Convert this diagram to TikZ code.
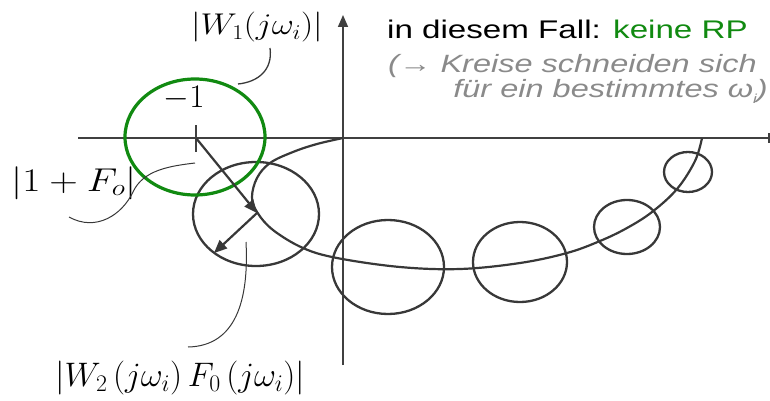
\RequirePackage{fix-cm}
\documentclass[tikz,border=0pt]{standalone}
\usepackage{fontspec}
\usepackage{graphicx}
\usetikzlibrary{arrows.meta}
\newfontfamily\dsans[FakeStretch=1.3]{Liberation Sans}
\definecolor{ink}{HTML}{383838}
\definecolor{axisc}{HTML}{404040}
\definecolor{rpgreen}{HTML}{118A11}
\definecolor{txtgray}{HTML}{8A8A8A}
\tikzset{
  axisline/.style={axisc, line width=1.6pt},
  nyq/.style={ink, line width=2.2pt},
  circ/.style={ink, line width=2.3pt},
  greenc/.style={rpgreen, line width=3.2pt},
  leader/.style={ink, line width=1pt},
  vec/.style={ink, line width=2.2pt, -{Triangle[length=13pt,width=11pt]}},
  lbl/.style={inner sep=0pt, text=black},
}
\begin{document}
\begin{tikzpicture}[x=1pt,y=-1pt]
\useasboundingbox (0,0) rectangle (770,401);
\clip (0,0) rectangle (770,401);

% axes
\coordinate (xl) at (78,138);
\coordinate (xr) at (776,138);
\coordinate (yb) at (343,365);
\coordinate (yt) at (343,15);
\draw[axisline] (xl) -- (xr);
\draw[axisline, -{Triangle[length=12pt,width=10pt]}] (yb) -- (yt);
\draw[axisc, line width=2pt] (768.5,133) -- (768.5,143);

% tick at -1
\coordinate (m1) at (196,138);
\coordinate (tkt) at (196,125);
\coordinate (tkb) at (196,152);
\draw[axisline] (tkt) -- (tkb);

% Nyquist curve
\draw[nyq] plot[smooth, tension=0.6] coordinates {
 (343,138) (317,144) (293,152) (270,163) (257,178) (252,197) (257,212)
 (273,230) (303,248) (337,258) (400,267) (460,269) (520,263) (567,253)
 (600,241) (627,228) (652,212) (677,189) (695,161) (702,138)};

% uncertainty circles
\draw[circ] (256,214) ellipse [x radius=63pt, y radius=52pt];
\draw[circ] (388,267) ellipse [x radius=56pt, y radius=47pt];
\draw[circ] (520,262) ellipse [x radius=47pt, y radius=40pt];
\draw[circ] (627,227) ellipse [x radius=33pt, y radius=27pt];
\draw[circ] (688,172) ellipse [x radius=24pt, y radius=20pt];

% green circle around -1
\draw[greenc] (195,137) ellipse [x radius=70pt, y radius=58pt];

% vectors
\coordinate (c1) at (257,213);
\coordinate (r1) at (214,253);
\draw[vec] (m1) -- (c1);
\draw[vec] (c1) -- (r1);

% labels
\node[lbl, anchor=base] (lw1) at (257,35) {\scalebox{1.14}[1]{\fontsize{30}{36}\selectfont $|W_1(j\omega_i)|$}};
\node[lbl, anchor=base] (lm1) at (184,108) {\fontsize{33}{40}\selectfont $-1$};
\node[lbl, anchor=base] (lfo) at (74,191) {\scalebox{1.2}[1]{\fontsize{33}{40}\selectfont $|1+F_o|$}};
\node[lbl, anchor=center] (lw2) at (180,378) {\fontsize{34}{40}\selectfont $\left|W_2\,(j\omega_i)\,F_0\,(j\omega_i)\right|$};

% leader lines
\coordinate (a1) at (270,48);
\coordinate (a2) at (238,84);
\draw[leader, line width=1.3pt] (a1) .. controls (273,70) and (258,82) .. (a2);
\coordinate (b1) at (195,163);
\coordinate (b2) at (133,192);
\coordinate (b3) at (69,217);
\draw[leader] (b1) .. controls (170,166) and (143,170) .. (b2)
  .. controls (122,215) and (96,232) .. (b3);
\coordinate (d1) at (246,242);
\coordinate (d2) at (188,347);
\draw[leader] (d1) .. controls (249,300) and (236,346) .. (d2);

% text block
\node[lbl, anchor=base west] (t1) at (387,39)
  {\dsans\fontsize{25.5}{30}\selectfont in diesem Fall: \textcolor{rpgreen}{keine RP}};
\node[lbl, anchor=base west, text=txtgray] (t2) at (388,73)
  {\dsans\itshape\fontsize{25}{30}\selectfont (→ Kreise schneiden sich};
\node[lbl, anchor=base east, text=txtgray] (t3) at (768,98)
  {\dsans\itshape\fontsize{25}{30}\selectfont für ein bestimmtes ω\raisebox{-0.22em}{\fontsize{13}{13}\selectfont i})};
\end{tikzpicture}
\end{document}
